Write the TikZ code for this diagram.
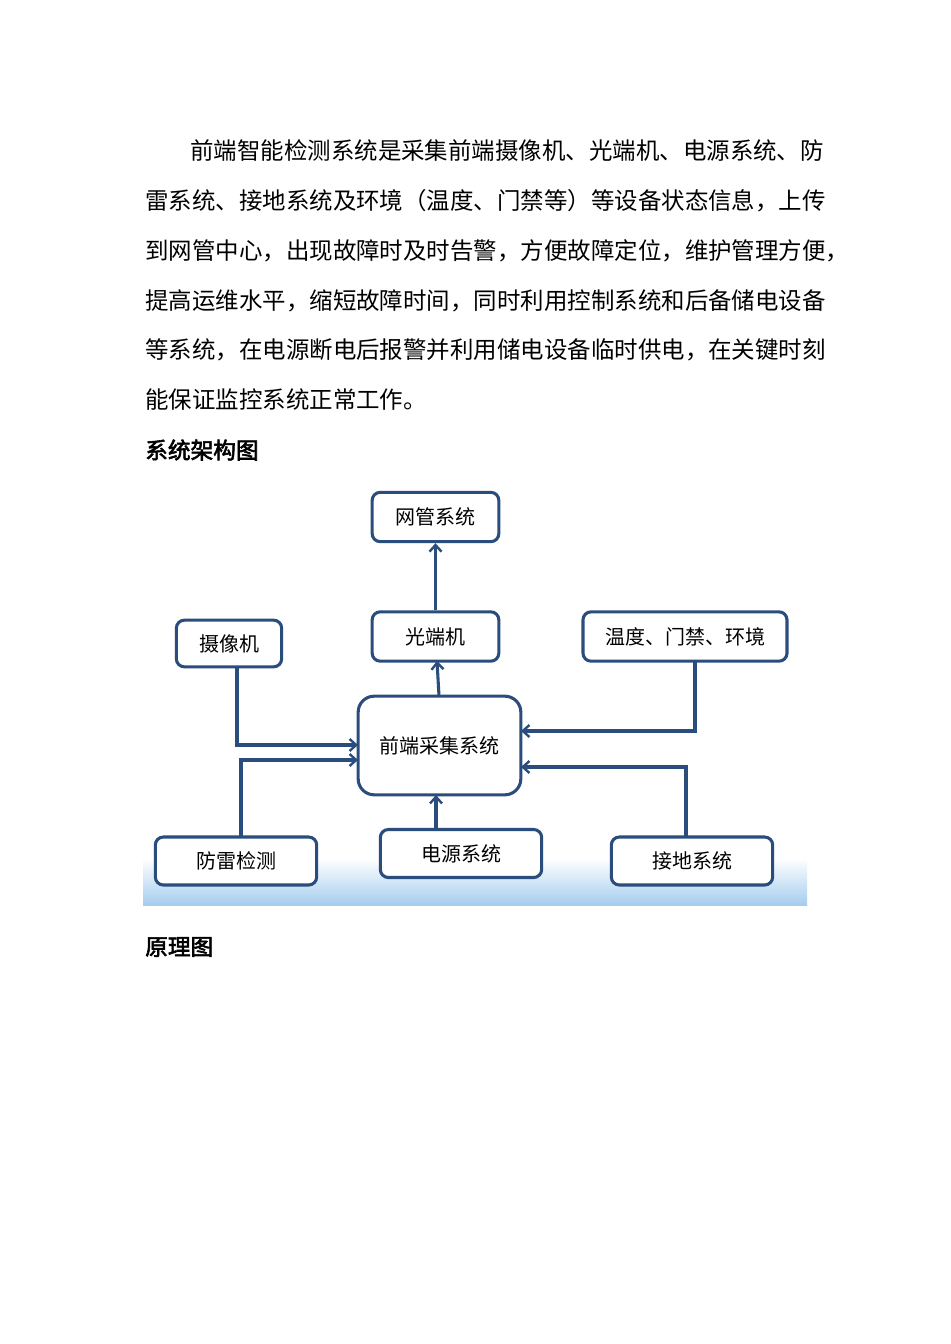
\documentclass[tikz,border=0pt]{standalone}
\usepackage{fontspec}
\setmainfont{Noto Sans CJK SC}
\newfontfamily\cjkb[FakeBold=2.5]{Noto Sans CJK SC}
\usetikzlibrary{arrows.meta}
\definecolor{lineblue}{RGB}{42,77,126}
\definecolor{skyblue}{RGB}{165,205,238}
\begin{document}
\begin{tikzpicture}[x=0.75pt,y=-0.75pt,
  para/.style={anchor=west,inner sep=0pt,font=\fontsize{17.6pt}{20pt}\selectfont},
  head/.style={anchor=west,inner sep=0pt,font=\fontsize{17pt}{20pt}\selectfont\cjkb},
  box/.style={draw=lineblue,line width=2.3pt,rounded corners=6pt,fill=white,inner sep=0pt,font=\fontsize{15pt}{18pt}\selectfont},
  conn/.style={draw=lineblue,line width=2.3pt,-{Straight Barb[length=5pt,width=9pt,line width=1.8pt]}}]
\useasboundingbox (0,0) rectangle (950,1344);
\fill[white] (0,0) rectangle (950,1344);
% text
\node[para] (l1) at (190,151) {前端智能检测系统是采集前端摄像机、光端机、电源系统、防};
\node[para] (l2) at (145,201) {雷系统、接地系统及环境（温度、门禁等）等设备状态信息，上传};
\node[para] (l3) at (145,251) {到网管中心，出现故障时及时告警，方便故障定位，维护管理方便，};
\node[para] (l4) at (145,301) {提高运维水平，缩短故障时间，同时利用控制系统和后备储电设备};
\node[para] (l5) at (145,350) {等系统，在电源断电后报警并利用储电设备临时供电，在关键时刻};
\node[para] (l6) at (145,400) {能保证监控系统正常工作。};
\node[head] (h1) at (145,450) {系统架构图};
\node[head] (h2) at (145,947) {原理图};
% background strip
\shade[top color=white,bottom color=skyblue] (143,858) rectangle (807,905);
% boxes
\node[box,minimum width=95pt,minimum height=37pt] (nm) at (435.5,517) {网管系统};
\node[box,minimum width=95pt,minimum height=37pt] (gd) at (435.5,636.5) {光端机};
\node[box,minimum width=79pt,minimum height=35pt] (sx) at (229,643.5) {摄像机};
\node[box,minimum width=153pt,minimum height=37pt] (wd) at (685,636.5) {温度、门禁、环境};
\node[box,minimum width=122pt,minimum height=74pt,rounded corners=12pt] (qd) at (439.5,745.5) {前端采集系统};
\node[box,minimum width=121pt,minimum height=36pt] (fl) at (236,861) {防雷检测};
\node[box,minimum width=121pt,minimum height=36pt] (dy) at (461,853.5) {电源系统};
\node[box,minimum width=121pt,minimum height=36pt] (jd) at (692,861) {接地系统};
% connector end points
\coordinate (gdb) at (437,661);
\coordinate (qdt) at (439,696);
\coordinate (sxb) at (237,667);
\coordinate (qdw1) at (358,745);
\coordinate (flt) at (241,837);
\coordinate (qdw2) at (358,760);
\coordinate (wdb) at (695,661);
\coordinate (qde1) at (521,731);
\coordinate (jdt) at (686,837);
\coordinate (qde2) at (521,767);
\coordinate (dyt) at (436,829);
\coordinate (qdb) at (436,795);
% connectors
\draw[conn] (gd.north) -- (nm.south);
\draw[conn] (qdt) -- (gdb);
\draw[conn] (sxb) |- (qdw1);
\draw[conn] (flt) |- (qdw2);
\draw[conn] (wdb) |- (qde1);
\draw[conn] (jdt) |- (qde2);
\draw[conn] (dyt) -- (qdb);
\end{tikzpicture}
\end{document}
